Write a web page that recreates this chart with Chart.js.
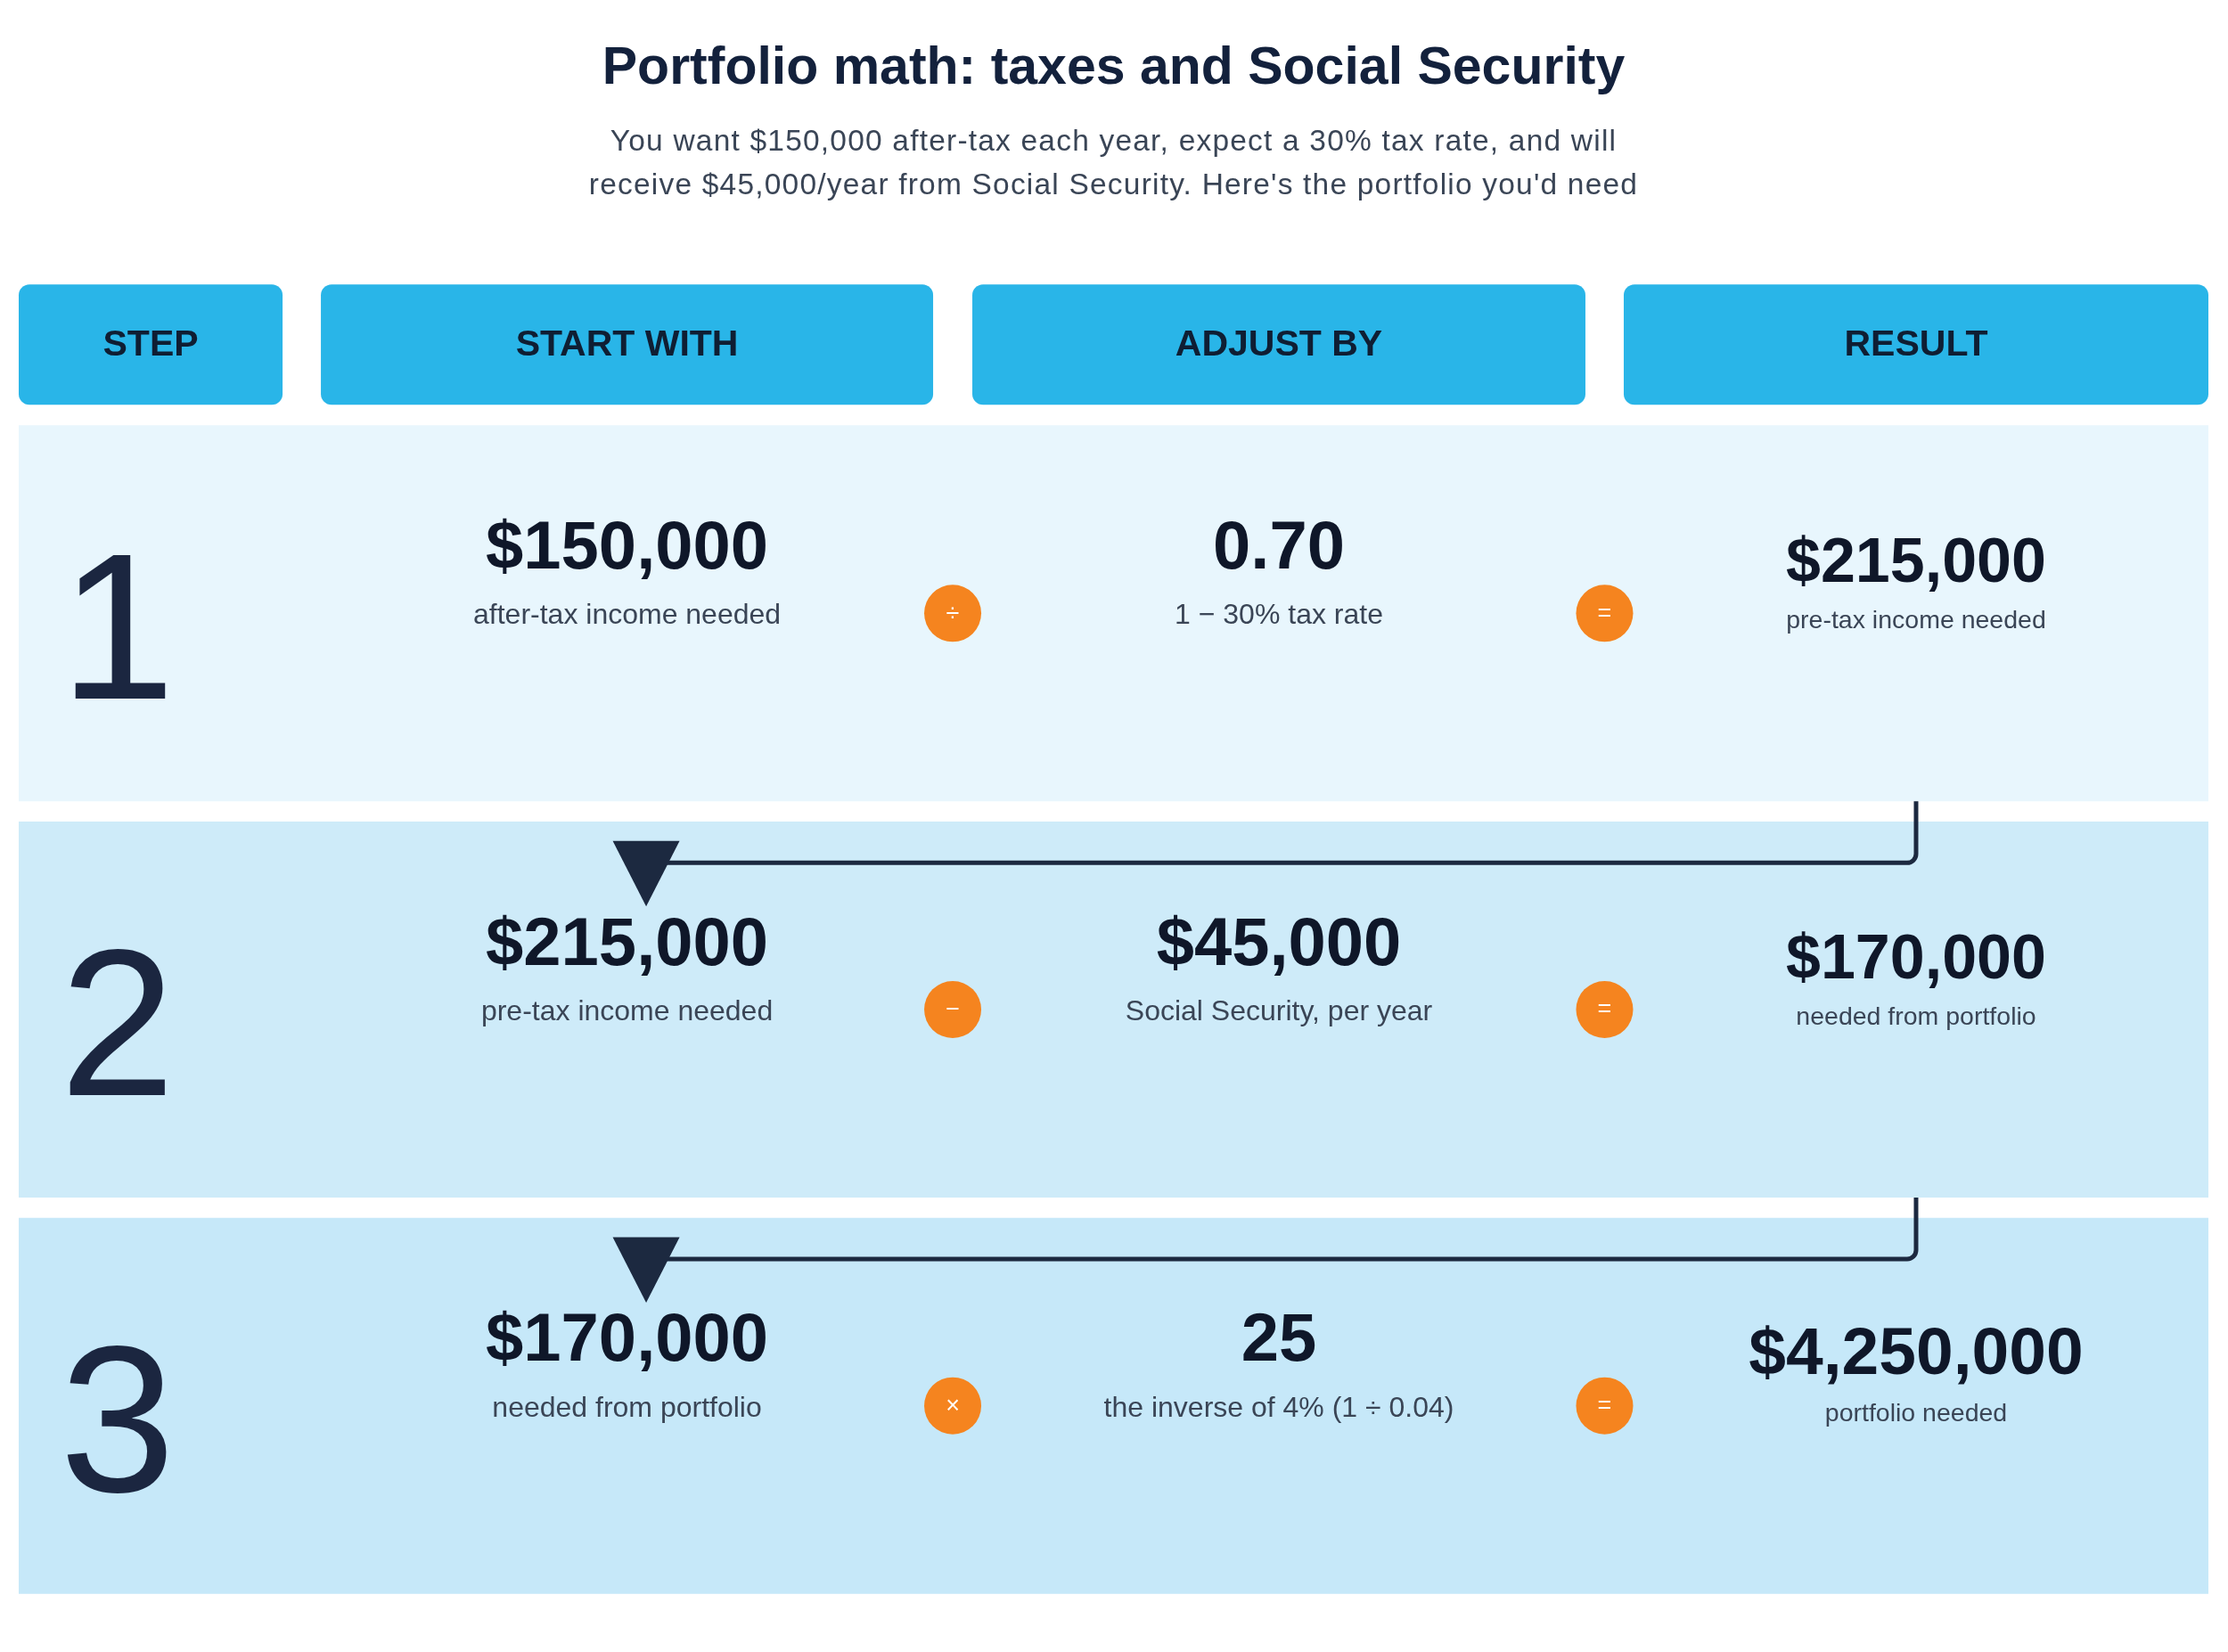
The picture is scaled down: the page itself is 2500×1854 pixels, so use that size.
<!DOCTYPE html>
<html>
<head>
<meta charset="utf-8">
<script src="https://cdn.jsdelivr.net/npm/chart.js@4.4.1/dist/chart.umd.min.js"></script>
<style>
  html, body { margin: 0; padding: 0; background: #ffffff; }
  #wrap { width: 2500px; height: 1854px; position: relative; }
</style>
</head>
<body>
<div id="wrap"><canvas id="c"></canvas></div>
<script>
// ---------------- DATA ----------------
const titleText = 'Portfolio math: taxes and Social Security';
const subtitleLines = [
  'You want $150,000 after-tax each year, expect a 30% tax rate, and will',
  "receive $45,000/year from Social Security. Here's the portfolio you'd need"
];
const columnHeaders = ['STEP', 'START WITH', 'ADJUST BY', 'RESULT'];
const steps = ['1', '2', '3'];
const startValues = ['$150,000', '$215,000', '$170,000'];
const startLabels = ['after-tax income needed', 'pre-tax income needed', 'needed from portfolio'];
const operators = ['\u00F7', '\u2212', '\u00D7'];
const adjustValues = ['0.70', '$45,000', '25'];
const adjustLabels = ['1 \u2212 30% tax rate', 'Social Security, per year', 'the inverse of 4% (1 \u00F7 0.04)'];
const resultValues = ['$215,000', '$170,000', '$4,250,000'];
const resultLabels = ['pre-tax income needed', 'needed from portfolio', 'portfolio needed'];

// ---------------- LAYOUT / STYLE ----------------
const FONT = '"Liberation Sans", Arial, Helvetica, sans-serif';
const layout = {
  // column extents along the hidden 0..1 x scale
  columns: [[0, 0.1205], [0.1380, 0.4176], [0.4355, 0.7155], [0.7330, 1.0]],
  headerHeight: 135,
  headerGap: 23,
  headerRadius: 12,
  stepInset: 46,
  arrowDrop: 69,
  arrowCorner: 10,
  arrowTargetShift: 21.5,
  triHalf: 37.5,
  triUp: 24.5,
  triDown: 49,
  opRadius: 32,
  subtitleBaselines: [169, 217.5]
};
const style = {
  title: '#13213c',
  subtitle: '#3a4556',
  header: '#29b5e8',
  headerText: '#0f1e33',
  rows: ['#e8f6fd', '#ceebf9', '#c6e8f9'],
  value: '#0f1729',
  label: '#3a4556',
  step: '#1b2640',
  op: '#f5841f',
  arrow: '#1c2940',
  resultSizes: [70, 70, 75]
};

const tablePlugin = {
  id: 'tableOverlay',
  afterDatasetsDraw(chart) {
    const { ctx, scales } = chart;
    const xs = scales.x;
    const meta = chart.getDatasetMeta(0);
    const colL = i => xs.getPixelForValue(layout.columns[i][0]);
    const colR = i => xs.getPixelForValue(layout.columns[i][1]);
    const colC = i => (colL(i) + colR(i)) / 2;
    const gapC = i => (colR(i) + colL(i + 1)) / 2;

    ctx.save();
    // subtitle (two lines, slightly tracked)
    ctx.fillStyle = style.subtitle;
    ctx.font = '33.5px ' + FONT;
    ctx.textAlign = 'center';
    ctx.textBaseline = 'alphabetic';
    if ('letterSpacing' in ctx) ctx.letterSpacing = '1.2px';
    const midX = (chart.chartArea.left + chart.chartArea.right) / 2;
    subtitleLines.forEach((t, i) => ctx.fillText(t, midX, layout.subtitleBaselines[i]));
    if ('letterSpacing' in ctx) ctx.letterSpacing = '0px';

    // header boxes
    const firstBar = meta.data[0];
    const rowTop0 = firstBar.y - firstBar.height / 2;
    const hBottom = rowTop0 - layout.headerGap;
    const hTop = hBottom - layout.headerHeight;
    columnHeaders.forEach((h, i) => {
      ctx.beginPath();
      ctx.roundRect(colL(i), hTop, colR(i) - colL(i), layout.headerHeight, layout.headerRadius);
      ctx.fillStyle = style.header;
      ctx.fill();
      ctx.fillStyle = style.headerText;
      ctx.font = 'bold 41px ' + FONT;
      ctx.textAlign = 'center';
      ctx.textBaseline = 'middle';
      ctx.fillText(h, colC(i), (hTop + hBottom) / 2 + 1);
    });

    // arrows between rows
    for (let i = 0; i < steps.length - 1; i++) {
      const bar = meta.data[i];
      const bottom = bar.y + bar.height / 2;
      const fx = colC(3);
      const ly = bottom + layout.arrowDrop;
      const tx = colC(1) + layout.arrowTargetShift;
      const r = layout.arrowCorner;
      ctx.beginPath();
      ctx.moveTo(fx, bottom);
      ctx.lineTo(fx, ly - r);
      ctx.arcTo(fx, ly, fx - r, ly, r);
      ctx.lineTo(tx, ly);
      ctx.strokeStyle = style.arrow;
      ctx.lineWidth = 5;
      ctx.stroke();
      ctx.beginPath();
      ctx.moveTo(tx - layout.triHalf, ly - layout.triUp);
      ctx.lineTo(tx + layout.triHalf, ly - layout.triUp);
      ctx.lineTo(tx, ly + layout.triDown);
      ctx.closePath();
      ctx.fillStyle = style.arrow;
      ctx.fill();
    }

    // row contents
    steps.forEach((s, i) => {
      const bar = meta.data[i];
      const c = bar.y;
      const left = colL(0);
      ctx.textBaseline = 'alphabetic';
      // step number
      ctx.textAlign = 'left';
      ctx.fillStyle = style.step;
      ctx.font = '233px ' + FONT;
      ctx.fillText(s, left + layout.stepInset, c + 96);

      ctx.textAlign = 'center';
      // start + adjust columns
      ctx.fillStyle = style.value;
      ctx.font = 'bold 76px ' + FONT;
      ctx.fillText(startValues[i], colC(1), c - 50.5);
      ctx.fillText(adjustValues[i], colC(2), c - 50.5);
      ctx.fillStyle = style.label;
      ctx.font = '32px ' + FONT;
      ctx.fillText(startLabels[i], colC(1), c + 12);
      ctx.fillText(adjustLabels[i], colC(2), c + 12);
      // result
      ctx.fillStyle = style.value;
      ctx.font = 'bold ' + style.resultSizes[i] + 'px ' + FONT;
      ctx.fillText(resultValues[i], colC(3), c - 35.5);
      ctx.fillStyle = style.label;
      ctx.font = '28.5px ' + FONT;
      ctx.fillText(resultLabels[i], colC(3), c + 17);

      // operators
      [[gapC(1), operators[i]], [gapC(2), '=']].forEach(([ox, sym]) => {
        ctx.beginPath();
        ctx.arc(ox, c, layout.opRadius, 0, Math.PI * 2);
        ctx.fillStyle = style.op;
        ctx.fill();
        ctx.fillStyle = '#ffffff';
        ctx.font = '27px ' + FONT;
        ctx.textBaseline = 'middle';
        ctx.fillText(sym, ox, c + 1);
        ctx.textBaseline = 'alphabetic';
      });
    });
    ctx.restore();
  }
};

new Chart(document.getElementById('c'), {
  type: 'bar',
  data: {
    labels: steps,
    datasets: [{
      data: steps.map(() => [0, 1]),
      backgroundColor: style.rows,
      borderWidth: 0,
      borderSkipped: false,
      barPercentage: 1,
      categoryPercentage: 0.949
    }]
  },
  options: {
    indexAxis: 'y',
    responsive: true,
    maintainAspectRatio: false,
    devicePixelRatio: 1,
    animation: false,
    events: [],
    layout: { padding: { top: 0, left: 21, right: 22, bottom: 54 } },
    scales: {
      x: { type: 'linear', min: 0, max: 1, display: false },
      y: { type: 'category', display: false }
    },
    plugins: {
      legend: { display: false },
      tooltip: { enabled: false },
      title: {
        display: true,
        text: titleText,
        color: style.title,
        font: { family: FONT, size: 59, weight: 'bold', lineHeight: 1.2 },
        padding: { top: 42, bottom: 353.2 }
      },
      subtitle: { display: false }
    }
  },
  plugins: [tablePlugin]
});
</script>
</body>
</html>
